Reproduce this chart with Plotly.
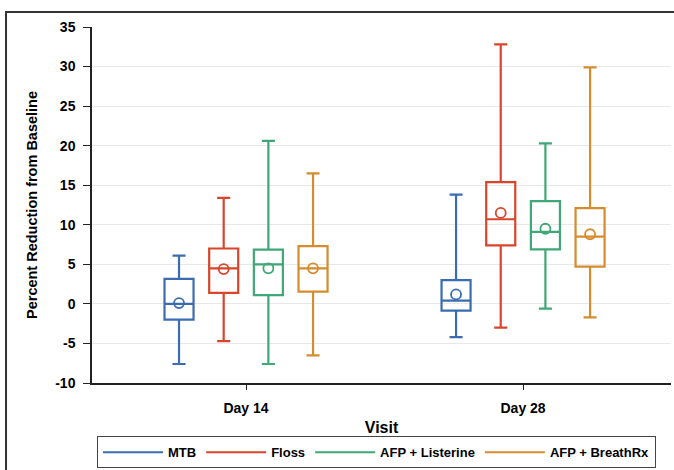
import plotly.graph_objects as go

visits = ["Day 14", "Day 28"]
groups = ["MTB", "Floss", "AFP + Listerine", "AFP + BreathRx"]
colors = ["#3b6cb0", "#d9452b", "#3fa876", "#d58c2e"]

# box statistics per group: [Day 14, Day 28]
lower = {"MTB": [-7.6, -4.2], "Floss": [-4.7, -3.0], "AFP + Listerine": [-7.6, -0.6], "AFP + BreathRx": [-6.5, -1.7]}
q1 = {"MTB": [-2.0, -0.85], "Floss": [1.4, 7.4], "AFP + Listerine": [1.1, 6.9], "AFP + BreathRx": [1.55, 4.7]}
median = {"MTB": [0.0, 0.4], "Floss": [4.5, 10.7], "AFP + Listerine": [5.0, 9.1], "AFP + BreathRx": [4.5, 8.5]}
q3 = {"MTB": [3.15, 3.0], "Floss": [7.0, 15.4], "AFP + Listerine": [6.85, 13.0], "AFP + BreathRx": [7.3, 12.1]}
upper = {"MTB": [6.1, 13.8], "Floss": [13.4, 32.8], "AFP + Listerine": [20.6, 20.3], "AFP + BreathRx": [16.5, 29.9]}
mean = {"MTB": [0.1, 1.2], "Floss": [4.4, 11.5], "AFP + Listerine": [4.5, 9.5], "AFP + BreathRx": [4.5, 8.8]}

y_ticks = [-10, -5, 0, 5, 10, 15, 20, 25, 30, 35]
y_tick_labels = ["-10", "-5", "0", "5", "10", "15", "20", "25", "30", "35"]

FONT = "Liberation Sans, Arial, sans-serif"

fig = go.Figure()
for g, c in zip(groups, colors):
    fig.add_trace(go.Box(
        x=visits, q1=q1[g], median=median[g], q3=q3[g],
        lowerfence=lower[g], upperfence=upper[g],
        name=g, offsetgroup=g, showlegend=False,
        line=dict(color=c, width=2.2), fillcolor="rgba(0,0,0,0)",
        whiskerwidth=0.45, boxpoints=False,
    ))
    fig.add_trace(go.Scatter(
        x=visits, y=mean[g], mode="markers", offsetgroup=g, showlegend=False,
        marker=dict(symbol="circle-open", size=10, color=c, line=dict(width=1.8, color=c)),
    ))
    # legend entry (separate invisible axes so grouping is unaffected)
    fig.add_trace(go.Scatter(
        x=[None], y=[None], mode="lines", name=g, xaxis="x2", yaxis="y2",
        line=dict(color=c, width=2),
    ))

fig.update_layout(
    width=674, height=470,
    margin=dict(l=92, r=3, t=27, b=86),
    paper_bgcolor="white", plot_bgcolor="white",
    boxmode="group", boxgap=0.355, boxgroupgap=0.35,
    scattermode="group", scattergap=0.355,
    font=dict(family=FONT, color="black"),
    xaxis=dict(
        type="category", range=[-0.556, 1.534],
        showline=True, linecolor="#222", linewidth=1.5,
        ticks="outside", ticklen=5, tickcolor="#222",
        ticklabelstandoff=6,
        tickfont=dict(size=14, weight="bold"),
        title=dict(text="Visit", font=dict(size=16, weight="bold"), standoff=7),
        showgrid=False, zeroline=False,
    ),
    yaxis=dict(
        range=[-10, 35], tickvals=y_ticks, ticktext=y_tick_labels,
        showline=True, linecolor="#222", linewidth=1.5,
        ticks="outside", ticklen=7, tickcolor="#222",
        ticklabelstandoff=5,
        tickfont=dict(size=14, weight="bold"),
        title=dict(text="Percent Reduction from Baseline", font=dict(size=14.5, weight="bold"), standoff=14),
        showgrid=True, gridcolor="#e8e8e8", gridwidth=1, zeroline=False,
    ),
    xaxis2=dict(overlaying="x", visible=False),
    yaxis2=dict(overlaying="y", visible=False),
    legend=dict(
        orientation="h", x=0.0086, xanchor="left", y=-0.236, yanchor="bottom",
        bordercolor="#444", borderwidth=1, bgcolor="white",
        font=dict(size=13, weight="bold"), itemwidth=60,
        tracegroupgap=0,
    ),
    shapes=[dict(
        type="rect", xref="paper", yref="paper",
        x0=-0.1485, x1=1.05, y0=-0.5, y1=1.042,
        line=dict(color="#333", width=2), fillcolor="rgba(0,0,0,0)", layer="below",
    )],
)

fig.write_html("out.html")
